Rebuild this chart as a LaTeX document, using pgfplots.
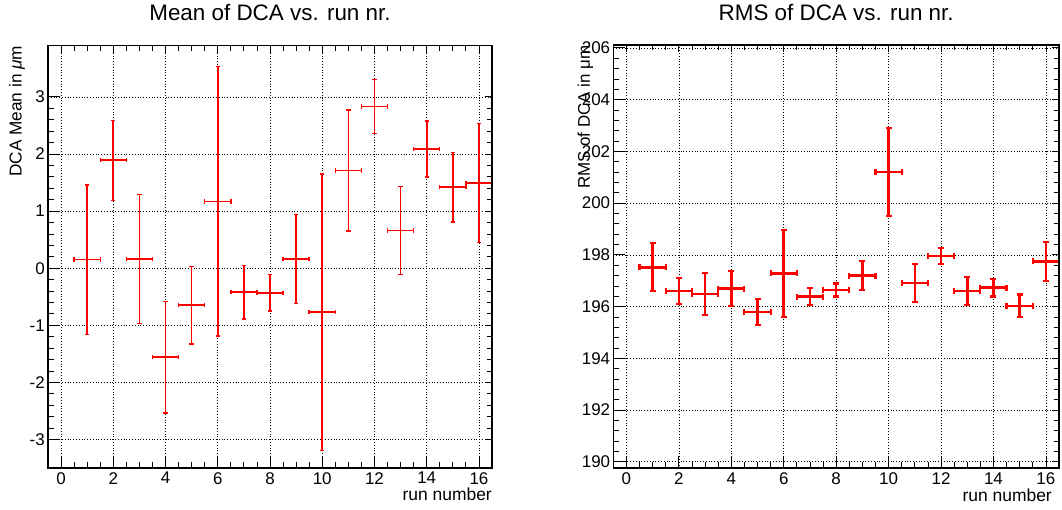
\documentclass[border=0pt]{standalone}
\usepackage{fontspec}
\setmainfont{Liberation Sans}
\usepackage{pgfplots}
\usepackage{pgfplotstable}
\pgfplotsset{compat=1.18}

\pgfplotstableread{
x y ey
1 0.15 1.31
2 1.89 0.70
3 0.16 1.13
4 -1.56 0.98
5 -0.65 0.68
6 1.17 2.36
7 -0.42 0.47
8 -0.43 0.32
9 0.16 0.78
10 -0.77 2.42
11 1.71 1.06
12 2.83 0.47
13 0.66 0.77
14 2.09 0.49
15 1.42 0.61
16 1.49 1.04
}\meandata

\pgfplotstableread{
x y ey
1 197.52 0.93
2 196.60 0.50
3 196.49 0.80
4 196.69 0.68
5 195.79 0.49
6 197.28 1.67
7 196.38 0.33
8 196.64 0.25
9 197.20 0.57
10 201.20 1.71
11 196.91 0.74
12 197.96 0.30
13 196.60 0.55
14 196.73 0.34
15 196.03 0.44
16 197.75 0.76
}\rmsdata

\pgfplotsset{rootstyle/.style={
  scale only axis,
  xmin=-0.5, xmax=16.5,
  xtick={0,2,...,16}, minor x tick num=3,
  axis line style={line width=1.6bp},
  tick style={black, line width=0.8bp},
  major tick length=12bp, minor tick length=6bp,
  tick align=inside,
  xtick pos=bottom, ytick pos=left,
  grid=major,
  major grid style={black, line width=0.7bp, dash pattern=on 0.8bp off 2bp},
  tick label style={font=\fontsize{17}{17}\selectfont},
  /pgf/number format/assume math mode=true,
  yticklabel style={inner sep=0pt, xshift=-3bp},
  xticklabel style={inner sep=0pt, yshift=-4bp},
  title style={font=\fontsize{22.5}{22.5}\selectfont, at={(rel axis cs:0.5,1)}, anchor=base, inner sep=0pt},
  xlabel style={font=\fontsize{17.5}{17.5}\selectfont, at={(rel axis cs:1,0)}, anchor=north east, inner sep=0pt, yshift=-20bp},
},
opposite/.style={
  scale only axis,
  xmin=-0.5, xmax=16.5,
  xtick={0,2,...,16}, minor x tick num=3,
  axis line style={line width=1.6bp},
  tick style={black, line width=0.8bp},
  major tick length=7bp, minor tick length=5bp,
  tick align=inside,
  xtick pos=top, ytick pos=right,
  xticklabels={}, yticklabels={},
}}

\begin{document}
\begin{tikzpicture}
\path[use as bounding box] (0,0) rectangle (1062bp,510bp);

\begin{axis}[rootstyle,
  at={(48bp,42bp)}, anchor=south west,
  width=444bp, height=422.5bp,
  ymin=-3.5, ymax=3.9,
  ytick={-3,-2,...,3}, minor y tick num=4,
  title={Mean of DCA vs. run nr.},
  title style={yshift=19bp},
  xlabel={run number},
  ylabel={DCA Mean in \textit{μ}m},
  ylabel style={font=\fontsize{17.3}{17.3}\selectfont, at={([xshift=-39bp]rel axis cs:0,1)}, anchor=north east, inner sep=0pt},
]
\addplot[draw=none, mark=none,
  error bars/.cd, x dir=both, x fixed=0.5, y dir=both, y explicit,
  error mark=|,
  error bar style={draw=red, line width=1.6bp},
  error mark options={draw=red, line width=1.4bp, mark size=2.2bp}]
  table[x=x, y=y, y error=ey] {\meandata};
\end{axis}
\begin{axis}[opposite,
  at={(48bp,42bp)}, anchor=south west,
  width=444bp, height=422.5bp,
  ymin=-3.5, ymax=3.9,
  ytick={-3,-2,...,3}, minor y tick num=4,
]
\end{axis}

\begin{axis}[rootstyle,
  at={(613.3bp,41.7bp)}, anchor=south west,
  width=445.7bp, height=423bp,
  ymin=189.75, ymax=206.1,
  ytick={190,192,...,206}, minor y tick num=4,
  title={RMS of DCA vs. run nr.},
  title style={yshift=19bp},
  xlabel={run number},
  xlabel style={xshift=-7bp},
  ylabel={RMS of DCA in μm},
  ylabel style={font=\fontsize{17}{17}\selectfont, at={([xshift=-36bp]rel axis cs:0,1)}, anchor=north east, inner sep=0pt},
]
\addplot[draw=none, mark=none,
  error bars/.cd, x dir=both, x fixed=0.5, y dir=both, y explicit,
  error mark=|,
  error bar style={draw=red, line width=2.6bp},
  error mark options={draw=red, line width=2.2bp, mark size=3bp}]
  table[x=x, y=y, y error=ey] {\rmsdata};
\end{axis}
\begin{axis}[opposite,
  at={(613.3bp,41.7bp)}, anchor=south west,
  width=445.7bp, height=423bp,
  ymin=189.75, ymax=206.1,
  ytick={190,192,...,206}, minor y tick num=4,
]
\end{axis}
\end{tikzpicture}
\end{document}
